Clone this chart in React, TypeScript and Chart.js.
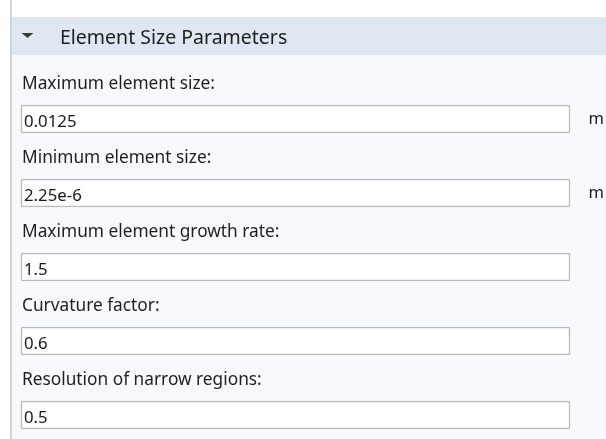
import React, { useEffect, useRef } from "react";
import { Chart, registerables } from "chart.js";

Chart.register(...registerables);

const sectionTitle = "Element Size Parameters";
const fieldLabels = [
  "Maximum element size:",
  "Minimum element size:",
  "Maximum element growth rate:",
  "Curvature factor:",
  "Resolution of narrow regions:",
];
const fieldValues = ["0.0125", "2.25e-6", "1.5", "0.6", "0.5"];
const fieldUnits = ["m", "m", "", "", ""];
const boxSpans: [number, number][] = [
  [0, 1],
  [0, 1],
  [0, 1],
  [0, 1],
  [0, 1],
];

const FONT = '"Noto Sans", "Open Sans", sans-serif';

const panelPlugin = {
  id: "panel",
  beforeDraw(chart: any) {
    const ctx = chart.ctx as CanvasRenderingContext2D;
    const W = chart.width;
    const H = chart.height;
    ctx.save();
    ctx.fillStyle = "#ffffff";
    ctx.fillRect(0, 0, W, H);
    ctx.fillStyle = "#f8f9fd";
    ctx.fillRect(12, 55, W - 12, H - 55);
    ctx.fillStyle = "#dee7f2";
    ctx.fillRect(12, 17, W - 12, 38);
    ctx.fillStyle = "#d4d4d4";
    ctx.fillRect(10, 0, 2, H);
    // triangle
    ctx.fillStyle = "#3c3c3c";
    ctx.beginPath();
    ctx.moveTo(21.5, 33);
    ctx.lineTo(33.5, 33);
    ctx.lineTo(27.5, 38);
    ctx.closePath();
    ctx.fill();
    ctx.fillStyle = "#1e1e1e";
    ctx.font = `19.5px ${FONT}`;
    ctx.textBaseline = "alphabetic";
    ctx.fillText(sectionTitle, 60, 43.5);
    ctx.restore();
  },
  afterDatasetsDraw(chart: any) {
    const ctx = chart.ctx as CanvasRenderingContext2D;
    const meta = chart.getDatasetMeta(0);
    ctx.save();
    ctx.textBaseline = "alphabetic";
    meta.data.forEach((bar: any, i: number) => {
      const left = Math.min(bar.base, bar.x);
      const right = Math.max(bar.base, bar.x);
      ctx.fillStyle = "#1e1e1e";
      ctx.font = `17.3px ${FONT}`;
      ctx.fillText(fieldLabels[i], left + 1, bar.y - 30);
      ctx.fillStyle = "#1a1a1a";
      ctx.font = `16.8px ${FONT}`;
      ctx.fillText(fieldValues[i], left + 3, bar.y + 8);
      if (fieldUnits[i]) {
        ctx.font = `16.5px ${FONT}`;
        ctx.fillText(fieldUnits[i], right + 18.5, bar.y + 4.5);
      }
    });
    ctx.restore();
  },
};

export default function App() {
  const ref = useRef<HTMLCanvasElement | null>(null);
  useEffect(() => {
    if (!ref.current) return;
    const chart = new Chart(ref.current, {
      type: "bar",
      data: {
        labels: fieldLabels,
        datasets: [
          {
            data: boxSpans as any,
            backgroundColor: "#ffffff",
            borderColor: "#b9b9b9",
            borderWidth: 1.5,
            borderSkipped: false,
            borderRadius: 2,
            barThickness: 28,
            clip: false as any,
          },
        ],
      },
      options: {
        indexAxis: "y",
        responsive: false,
        animation: false,
        layout: { padding: { top: 119, bottom: 24, left: 21, right: 36 } },
        plugins: {
          legend: { display: false },
          tooltip: { enabled: false },
          title: { display: false },
        },
        events: [],
        scales: {
          x: { type: "linear", min: 0, max: 1, display: false },
          y: { type: "category", display: false, offset: false },
        },
      },
      plugins: [panelPlugin],
    });
    return () => chart.destroy();
  }, []);
  return (
    <div style={{ position: "fixed", left: 0, top: 0, width: 606, height: 439 }}>
      <canvas ref={ref} width={606} height={439} />
    </div>
  );
}
